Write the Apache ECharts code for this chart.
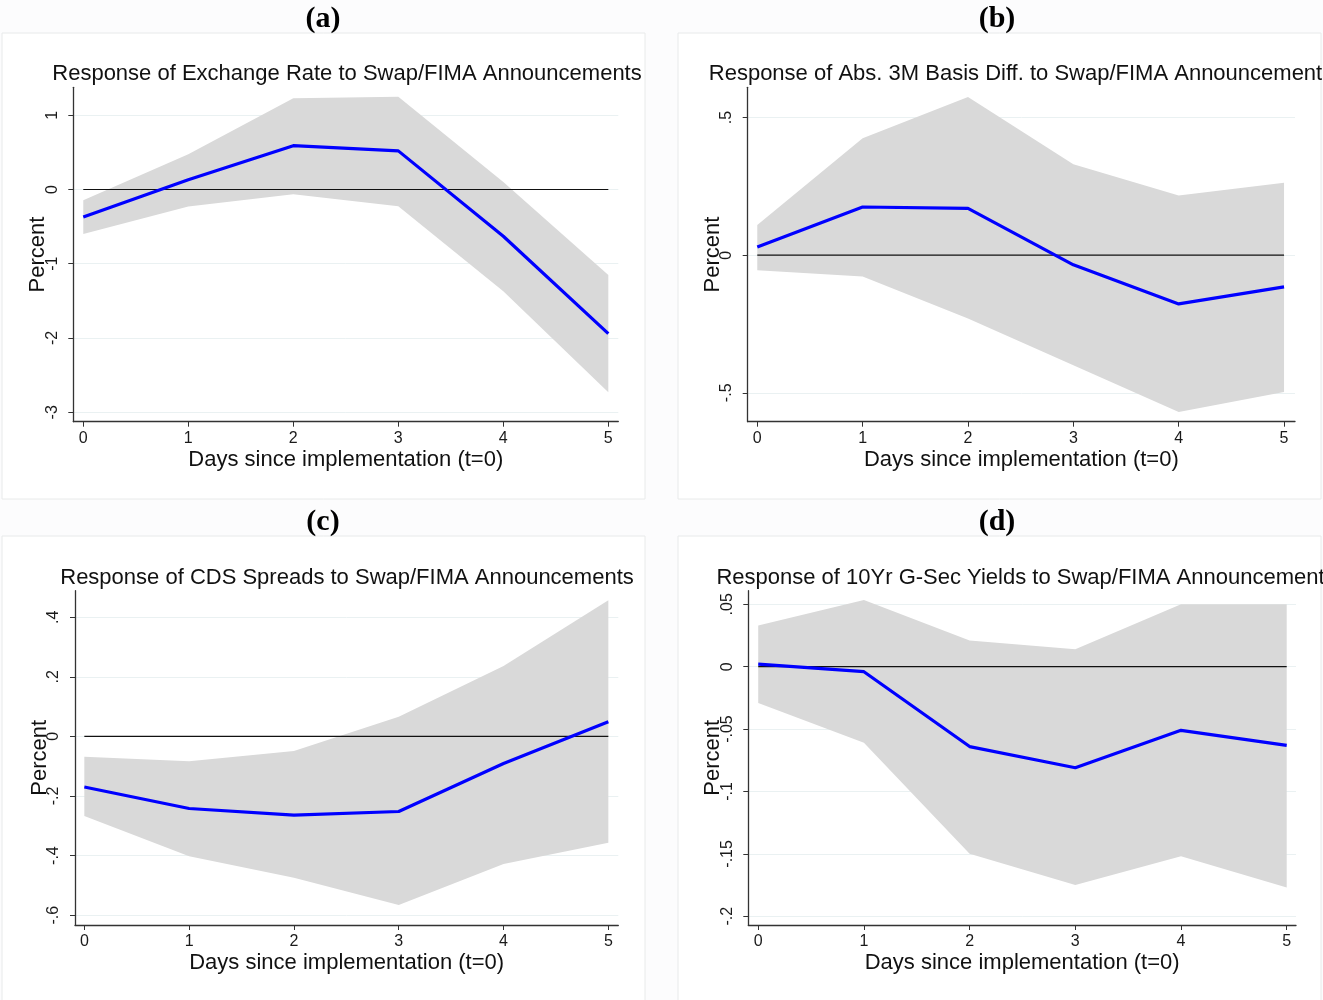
<!DOCTYPE html>
<html><head><meta charset="utf-8">
<script src="https://cdn.jsdelivr.net/npm/echarts@6/dist/echarts.min.js"></script>
<style>html,body{margin:0;padding:0;background:#fcfcfd}#c{width:1323px;height:1000px}</style>
</head><body><div id="c"></div>
<script>
// ---------- DATA ----------
const days = [0, 1, 2, 3, 4, 5];

// (a) Exchange rate
const fxEst   = [-0.37, 0.13, 0.59, 0.52, -0.63, -1.94];
const fxLower = [-0.60, -0.23, -0.065, -0.225, -1.37, -2.73];
const fxUpper = [-0.145, 0.475, 1.23, 1.25, 0.10, -1.15];
const fxTicks = [-3, -2, -1, 0, 1];
const fxTickLabels = ['-3', '-2', '-1', '0', '1'];

// (b) Abs. 3M basis diff.
const basisEst   = [0.03, 0.175, 0.17, -0.035, -0.177, -0.115];
const basisLower = [-0.055, -0.077, -0.23, -0.40, -0.57, -0.497];
const basisUpper = [0.11, 0.425, 0.575, 0.33, 0.217, 0.263];
const basisTicks = [-0.5, 0, 0.5];
const basisTickLabels = ['-.5', '0', '.5'];

// (c) CDS spreads
const cdsEst   = [-0.17, -0.242, -0.264, -0.252, -0.091, 0.049];
const cdsLower = [-0.267, -0.402, -0.474, -0.566, -0.428, -0.357];
const cdsUpper = [-0.068, -0.083, -0.049, 0.066, 0.236, 0.457];
const cdsTicks = [-0.6, -0.4, -0.2, 0, 0.2, 0.4];
const cdsTickLabels = ['-.6', '-.4', '-.2', '0', '.2', '.4'];

// (d) 10Yr G-Sec yields
const gsecEst   = [0.002, -0.004, -0.064, -0.081, -0.051, -0.063];
const gsecLower = [-0.029, -0.061, -0.15, -0.175, -0.152, -0.177];
const gsecUpper = [0.033, 0.0535, 0.021, 0.014, 0.05, 0.05];
const gsecTicks = [-0.2, -0.15, -0.1, -0.05, 0, 0.05];
const gsecTickLabels = ['-.2', '-.15', '-.1', '-.05', '0', '.05'];

const dayTickLabels = ['0', '1', '2', '3', '4', '5'];

const panelTitles = [
  'Response of Exchange Rate to Swap/FIMA Announcements',
  'Response of Abs. 3M Basis Diff. to Swap/FIMA Announcements',
  'Response of CDS Spreads to Swap/FIMA Announcements',
  'Response of 10Yr G-Sec Yields to Swap/FIMA Announcements'
];
const panelLetters = ['(a)', '(b)', '(c)', '(d)'];
const xTitle = 'Days since implementation (t=0)';
const yTitle = 'Percent';

// ---------- LAYOUT ----------
const panels = [
  { est: fxEst, lo: fxLower, hi: fxUpper, ticks: fxTicks, labels: fxTickLabels,
    left: 73.3, right: 618.3, top: 87.3, bottom: 421.7, xmin: -0.095, xmax: 5.095, ymin: -3.127, ymax: 1.376,
    box: [2, 33, 643, 466], letterX: 323, letterY: 4, titleX: 347 },
  { est: basisEst, lo: basisLower, hi: basisUpper, ticks: basisTicks, labels: basisTickLabels,
    left: 747.7, right: 1295, top: 87.3, bottom: 421.7, xmin: -0.091, xmax: 5.104, ymin: -0.605, ymax: 0.610,
    box: [678, 33, 643, 466], letterX: 997, letterY: 4, titleX: 1021 },
  { est: cdsEst, lo: cdsLower, hi: cdsUpper, ticks: cdsTicks, labels: cdsTickLabels,
    left: 75, right: 618.3, top: 590.7, bottom: 925, xmin: -0.089, xmax: 5.095, ymin: -0.633, ymax: 0.489,
    box: [2, 536, 643, 470], letterX: 323, letterY: 507, titleX: 347 },
  { est: gsecEst, lo: gsecLower, hi: gsecUpper, ticks: gsecTicks, labels: gsecTickLabels,
    left: 748.3, right: 1296, top: 590.7, bottom: 925, xmin: -0.094, xmax: 5.088, ymin: -0.207, ymax: 0.0609,
    box: [678, 536, 643, 470], letterX: 997, letterY: 507, titleX: 1026 }
];

const FONT = 'Liberation Sans, Arial, sans-serif';
const grids = [], xAxes = [], yAxes = [], series = [], titles = [], graphics = [];

panels.forEach((p, i) => {
  graphics.push({ type: 'rect', z: -10, silent: true,
    shape: { x: p.box[0], y: p.box[1], width: p.box[2], height: p.box[3] },
    style: { fill: '#ffffff', stroke: '#e8eaea', lineWidth: 1 } });

  grids.push({ left: p.left, top: p.top, width: p.right - p.left, height: p.bottom - p.top, containLabel: false });

  xAxes.push({
    type: 'value', gridIndex: i, min: p.xmin, max: p.xmax,
    axisLine: { show: true, onZero: false, lineStyle: { color: '#333', width: 1.3 } },
    axisTick: { show: true, customValues: days, length: 5, lineStyle: { color: '#333', width: 1 } },
    axisLabel: { customValues: days, fontSize: 16, color: '#1a1a1a', fontFamily: FONT, margin: 9,
      formatter: v => dayTickLabels[days.indexOf(v)] },
    splitLine: { show: false },
    name: xTitle, nameLocation: 'middle', nameGap: 27,
    nameTextStyle: { fontSize: 22, color: '#111', fontFamily: FONT }
  });

  yAxes.push({
    type: 'value', gridIndex: i, min: p.ymin, max: p.ymax,
    axisLine: { show: true, onZero: false, lineStyle: { color: '#333', width: 1.3 } },
    axisTick: { show: true, customValues: p.ticks, length: 5, lineStyle: { color: '#333', width: 1 } },
    axisLabel: { customValues: p.ticks, rotate: 90, fontSize: 16, color: '#1a1a1a', fontFamily: FONT, margin: 13,
      formatter: v => { const k = p.ticks.findIndex(t => Math.abs(t - v) < 1e-9); return k >= 0 ? p.labels[k] : ''; } },
    splitLine: { show: true, lineStyle: { color: '#eaf1f2', width: 1 } },
    name: yTitle, nameLocation: 'middle', nameGap: 24, nameMoveOverlap: false,
    nameTextStyle: { fontSize: 22, color: '#111', fontFamily: FONT }
  });

  // confidence band: one polygon through the library's coordinate system
  series.push({
    type: 'custom', xAxisIndex: i, yAxisIndex: i, silent: true, z: 1,
    data: days.map((d, k) => [d, p.lo[k], p.hi[k]]),
    renderItem: (params, api) => {
      if (params.dataIndex !== 0) return null;
      const upperPts = days.map((d, k) => api.coord([d, p.hi[k]]));
      const lowerPts = days.map((d, k) => api.coord([d, p.lo[k]])).reverse();
      return { type: 'polygon', shape: { points: upperPts.concat(lowerPts) },
               style: { fill: '#d9d9d9', stroke: null } };
    }
  });
  series.push({
    type: 'line', xAxisIndex: i, yAxisIndex: i,
    data: [[days[0], 0], [days[days.length - 1], 0]], symbol: 'none', silent: true,
    lineStyle: { color: '#111', width: 1.2 }, z: 2
  });
  series.push({
    type: 'line', xAxisIndex: i, yAxisIndex: i,
    data: days.map((d, k) => [d, p.est[k]]), symbol: 'none',
    lineStyle: { color: '#0000ff', width: 3.2 }, z: 3
  });

  titles.push({
    text: panelTitles[i], left: p.titleX, top: p.top - 24, textAlign: 'center', padding: 0,
    textStyle: { fontSize: 22, fontWeight: 'normal', color: '#111', fontFamily: FONT }
  });
  titles.push({
    text: panelLetters[i], left: p.letterX, top: p.letterY, textAlign: 'center', padding: 0,
    textStyle: { fontSize: 30, fontWeight: 'bold', color: '#000', fontFamily: 'Liberation Serif, Times New Roman, serif' }
  });
});

const chart = echarts.init(document.getElementById('c'), null, { renderer: 'canvas' });
chart.setOption({
  backgroundColor: '#fcfcfd',
  animation: false,
  title: titles,
  grid: grids,
  xAxis: xAxes,
  yAxis: yAxes,
  series: series,
  graphic: graphics
});
</script>
</body></html>
